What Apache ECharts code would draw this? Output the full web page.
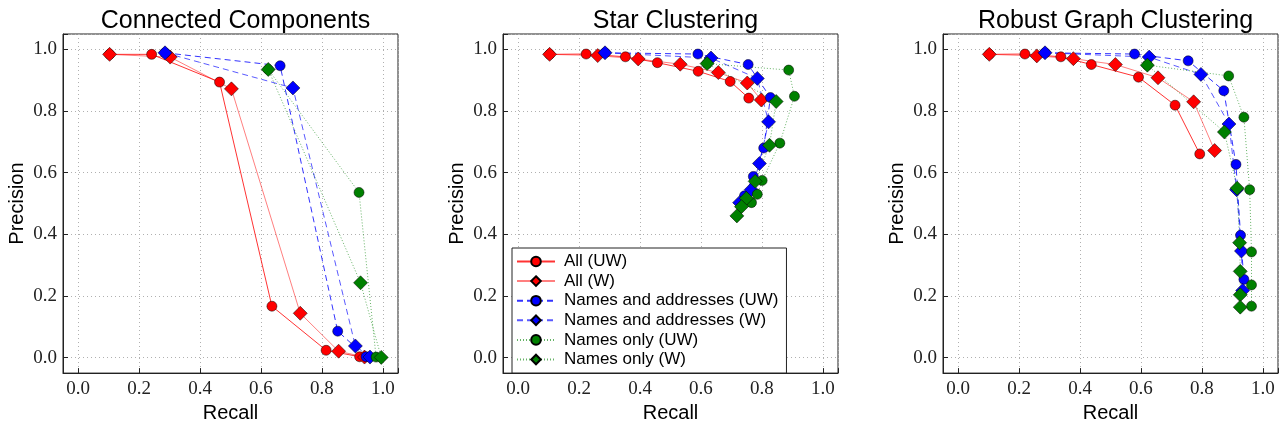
<!DOCTYPE html>
<html>
<head>
<meta charset="utf-8">
<script src="https://cdn.jsdelivr.net/npm/echarts@6/dist/echarts.min.js"></script>
<style>
html, body { margin: 0; padding: 0; background: #fff; }
#main { width: 1282px; height: 428px; }
</style>
</head>
<body>
<div id="main"></div>
<script>
var panelTitles = ['Connected Components', 'Star Clustering', 'Robust Graph Clustering'];
var seriesNames = ['All (UW)', 'All (W)', 'Names and addresses (UW)', 'Names and addresses (W)', 'Names only (UW)', 'Names only (W)'];
var tickValues = [0.0, 0.2, 0.4, 0.6, 0.8, 1.0];

// [recall, precision] pairs
// Connected Components
var ccAllUW = [[0.103, 0.984], [0.241, 0.984], [0.464, 0.894], [0.636, 0.167], [0.814, 0.024], [0.924, 0.003]];
var ccAllW = [[0.103, 0.984], [0.302, 0.975], [0.503, 0.872], [0.729, 0.144], [0.855, 0.021], [0.940, 0.002]];
var ccNaUW = [[0.285, 0.989], [0.663, 0.947], [0.852, 0.086], [0.945, 0.003]];
var ccNaW = [[0.285, 0.989], [0.705, 0.875], [0.910, 0.038], [0.958, 0.002]];
var ccNoUW = [[0.624, 0.935], [0.922, 0.536], [0.978, 0.002]];
var ccNoW = [[0.624, 0.935], [0.927, 0.243], [0.995, 0.001]];

// Star Clustering
var scAllUW = [[0.103, 0.984], [0.223, 0.985], [0.352, 0.976], [0.457, 0.957], [0.591, 0.929], [0.696, 0.896], [0.757, 0.842]];
var scAllW = [[0.103, 0.984], [0.261, 0.980], [0.394, 0.969], [0.532, 0.952], [0.657, 0.925], [0.752, 0.891], [0.798, 0.836]];
var scNaUW = [[0.285, 0.989], [0.590, 0.985], [0.755, 0.951], [0.828, 0.844], [0.806, 0.680], [0.772, 0.588], [0.743, 0.525]];
var scNaW = [[0.285, 0.989], [0.633, 0.972], [0.785, 0.906], [0.822, 0.765], [0.792, 0.630], [0.765, 0.545], [0.727, 0.503]];
var scNoUW = [[0.620, 0.954], [0.888, 0.933], [0.907, 0.848], [0.859, 0.696], [0.801, 0.575], [0.785, 0.530], [0.766, 0.503]];
var scNoW = [[0.620, 0.954], [0.847, 0.831], [0.825, 0.689], [0.778, 0.572], [0.749, 0.517], [0.733, 0.490], [0.718, 0.460]];

// Robust Graph Clustering
var rgAllUW = [[0.102, 0.984], [0.219, 0.985], [0.337, 0.976], [0.437, 0.951], [0.592, 0.910], [0.712, 0.819], [0.793, 0.661]];
var rgAllW = [[0.102, 0.984], [0.258, 0.979], [0.378, 0.970], [0.516, 0.951], [0.656, 0.908], [0.773, 0.830], [0.842, 0.672]];
var rgNaUW = [[0.285, 0.989], [0.579, 0.985], [0.755, 0.963], [0.872, 0.866], [0.912, 0.627], [0.927, 0.397], [0.938, 0.254]];
var rgNaW = [[0.285, 0.989], [0.627, 0.975], [0.797, 0.919], [0.889, 0.758], [0.914, 0.545], [0.930, 0.346], [0.934, 0.218]];
var rgNoUW = [[0.621, 0.949], [0.888, 0.914], [0.938, 0.780], [0.957, 0.545], [0.963, 0.343], [0.963, 0.236], [0.963, 0.167]];
var rgNoW = [[0.621, 0.949], [0.874, 0.732], [0.916, 0.550], [0.924, 0.373], [0.926, 0.280], [0.926, 0.204], [0.926, 0.164]];

var panelData = [
    [ccAllUW, ccAllW, ccNaUW, ccNaW, ccNoUW, ccNoW],
    [scAllUW, scAllW, scNaUW, scNaW, scNoUW, scNoW],
    [rgAllUW, rgAllW, rgNaUW, rgNaW, rgNoUW, rgNoW]
];

var colors = ['#ff0000', '#ff0000', '#0000ff', '#0000ff', '#008000', '#008000'];
var symbols = ['circle', 'diamond', 'circle', 'diamond', 'circle', 'diamond'];
var lineTypes = ['solid', 'solid', [6, 4], [6, 4], [1, 2], [1, 2]];
var lineOpacity = [0.8, 0.5, 0.8, 0.65, 0.6, 0.6];

var gridLeft = [63, 503, 943];
var gridW = 335, gridTop = 34, gridH = 346;

var chartDom = document.getElementById('main');
var myChart = echarts.init(chartDom);

function tickLabel(v) {
    for (var i = 0; i < tickValues.length; i++) {
        if (Math.abs(tickValues[i] - v) < 1e-6) return v.toFixed(1);
    }
    return '';
}

function makeAxis(idx, name, isY) {
    return {
        type: 'value',
        gridIndex: idx,
        min: -0.05,
        max: 1.05,
        splitNumber: 5,
        name: name,
        nameLocation: 'middle',
        nameGap: isY ? 36 : 29,
        nameTextStyle: { fontFamily: 'Liberation Sans', fontSize: 20, color: '#000' },
        axisLine: { show: true, onZero: false, lineStyle: { color: '#222', width: 1 } },
        axisTick: { show: true, inside: true, length: 5, lineStyle: { color: '#222' } },
        axisLabel: {
            fontFamily: 'Liberation Serif',
            fontSize: 19,
            color: '#222',
            margin: 6,
            formatter: tickLabel
        },
        splitLine: { show: true, lineStyle: { color: '#b0b0b0', type: [1, 3], width: 1 } }
    };
}

var grids = [], xAxes = [], yAxes = [], titles = [], series = [];
for (var p = 0; p < 3; p++) {
    grids.push({
        left: gridLeft[p], top: gridTop, width: gridW, height: gridH,
        show: true, borderColor: '#222', borderWidth: 1, containLabel: false
    });
    xAxes.push(makeAxis(p, 'Recall', false));
    yAxes.push(makeAxis(p, 'Precision', true));
    titles.push({
        text: panelTitles[p],
        left: gridLeft[p] + gridW / 2,
        textAlign: 'center',
        top: 4,
        textStyle: { fontFamily: 'Liberation Sans', fontSize: 25, fontWeight: 'normal', color: '#000' }
    });
    for (var k = 0; k < 6; k++) {
        series.push({
            name: seriesNames[k],
            type: 'line',
            xAxisIndex: p,
            yAxisIndex: p,
            data: panelData[p][k],
            symbol: symbols[k],
            symbolSize: symbols[k] === 'circle' ? 10 : 14,
            showAllSymbol: true,
            animation: false,
            itemStyle: { color: colors[k], borderColor: '#000', borderWidth: 0.5, opacity: 1 },
            lineStyle: { color: colors[k], width: 1, type: lineTypes[k], opacity: lineOpacity[k] },
            emphasis: { disabled: true }
        });
    }
}

var option = {
    backgroundColor: '#fff',
    animation: false,
    title: titles,
    grid: grids,
    xAxis: xAxes,
    yAxis: yAxes,
    legend: {
        data: seriesNames,
        orient: 'vertical',
        left: 512,
        top: 248,
        padding: [5, 8, 5, 4],
        itemWidth: 38,
        itemHeight: 12,
        itemGap: 2.6,
        backgroundColor: '#fff',
        borderColor: '#222',
        borderWidth: 1,
        borderRadius: 0,
        textStyle: { fontFamily: 'Liberation Sans', fontSize: 17, color: '#000', padding: [0, 0, 0, 4] }
    },
    series: series
};

option && myChart.setOption(option);
</script>
</body>
</html>
